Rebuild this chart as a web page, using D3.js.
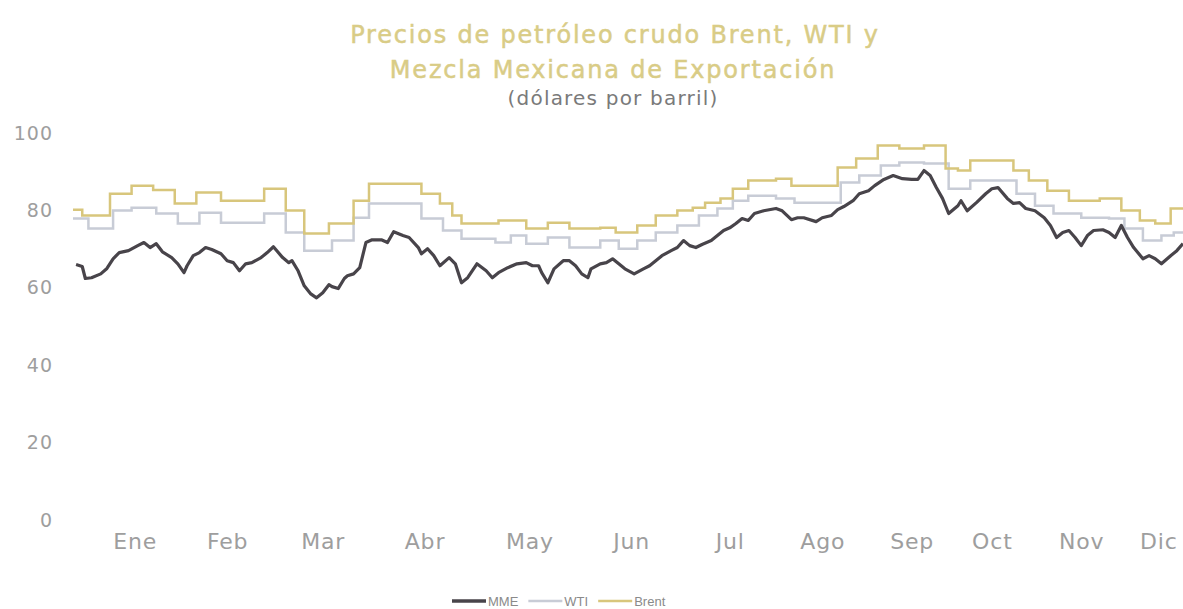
<!DOCTYPE html>
<html>
<head>
<meta charset="utf-8">
<script src="https://cdn.jsdelivr.net/npm/d3@7"></script>
<style>
  body { margin: 0; background: #fff; }
  text { font-family: "DejaVu Sans", sans-serif; }
</style>
</head>
<body>
<div id="chart"></div>
<script>
// Data (día del año 2023, dólares por barril):
var yTicks = [0, 20, 40, 60, 80, 100];
var months = ["Ene", "Feb", "Mar", "Abr", "May", "Jun", "Jul", "Ago", "Sep", "Oct", "Nov", "Dic"];
var monthDays = [20, 50, 81, 114, 148, 181, 213, 243, 272, 298, 327, 352];

var mme = [
  [1, 66.0], [3, 65.5], [4, 62.4], [6, 62.6], [9, 63.6], [11, 65.0], [13, 67.5], [15, 69.1],
  [18, 69.6], [21, 70.9], [23, 71.7], [25, 70.4], [27, 71.4], [29, 69.3], [32, 67.8], [34, 66.2],
  [36, 63.9], [37, 65.7], [39, 68.3], [41, 69.1], [43, 70.4], [45, 69.9], [48, 68.8], [50, 67.0],
  [52, 66.5], [54, 64.4], [56, 66.2], [58, 66.5], [61, 67.8], [63, 69.1], [65, 70.6], [68, 67.8],
  [70, 66.5], [71, 67.0], [73, 64.4], [75, 60.5], [77, 58.5], [79, 57.4], [81, 58.7], [83, 60.8],
  [84, 60.3], [86, 59.8], [88, 62.4], [89, 63.1], [91, 63.6], [93, 65.2], [95, 71.7], [97, 72.4],
  [100, 72.4], [102, 71.7], [104, 74.5], [107, 73.5], [109, 73.0], [112, 70.4], [113, 68.8], [115, 70.1],
  [117, 68.3], [119, 65.7], [122, 67.8], [124, 66.2], [126, 61.3], [128, 62.6], [131, 66.2], [134, 64.4],
  [136, 62.6], [138, 63.9], [141, 65.2], [144, 66.2], [147, 66.5], [149, 65.7], [151, 65.7], [152, 63.9],
  [154, 61.3], [156, 64.9], [159, 67.0], [161, 67.0], [163, 65.7], [165, 63.6], [167, 62.6], [168, 64.9],
  [171, 66.2], [173, 66.5], [175, 67.5], [177, 66.2], [179, 64.9], [182, 63.6], [185, 64.9], [187, 65.7],
  [189, 67.0], [191, 68.3], [194, 69.6], [196, 70.4], [198, 72.2], [200, 70.9], [202, 70.4], [204, 71.2],
  [207, 72.2], [209, 73.5], [211, 74.8], [213, 75.5], [215, 76.6], [217, 77.9], [219, 77.4], [221, 79.2],
  [224, 79.9], [228, 80.5], [230, 79.9], [233, 77.6], [235, 78.1], [237, 78.1], [241, 77.1], [243, 78.1],
  [246, 78.7], [248, 80.2], [250, 81.0], [253, 82.5], [255, 84.3], [258, 85.1], [260, 86.4], [263, 88.0],
  [266, 89.0], [269, 88.2], [272, 88.0], [274, 88.0], [276, 90.3], [278, 89.0], [280, 85.9], [282, 83.1],
  [284, 79.2], [287, 81.2], [288, 82.5], [290, 79.9], [293, 82.0], [296, 84.3], [298, 85.6], [300, 85.9],
  [303, 83.1], [305, 81.8], [307, 82.0], [309, 80.5], [312, 79.9], [315, 78.1], [317, 76.1], [319, 73.0],
  [321, 74.3], [323, 74.8], [325, 73.0], [327, 70.9], [329, 73.5], [331, 74.8], [334, 75.0], [336, 74.3],
  [338, 73.0], [340, 76.1], [342, 73.0], [344, 70.4], [347, 67.5], [349, 68.3], [351, 67.5], [353, 66.2],
  [356, 68.3], [358, 69.6], [360, 71.4]
];

var wti = [
  [0, 77.9], [5, 75.3], [13, 80.0], [19, 80.7], [27, 79.2], [34, 76.6], [41, 79.4], [48, 76.8],
  [62, 79.2], [69, 74.3], [75, 69.6], [84, 72.2], [91, 78.1], [96, 81.8], [113, 77.9], [120, 74.8],
  [126, 72.7], [137, 71.7], [142, 73.5], [147, 71.4], [154, 73.0], [161, 70.4], [171, 72.2], [177, 70.1],
  [183, 72.2], [189, 74.3], [196, 76.1], [203, 78.7], [209, 80.5], [214, 82.5], [219, 83.8], [228, 83.1],
  [234, 82.0], [249, 87.2], [255, 89.0], [262, 91.6], [268, 92.4], [276, 92.1], [284, 85.6], [291, 87.7],
  [306, 84.3], [312, 81.2], [318, 79.2], [327, 78.1], [336, 77.9], [341, 75.3], [347, 72.2], [353, 73.5],
  [357, 74.3], [360, 74.3]
];

var brent = [
  [0, 80.2], [3, 78.7], [12, 84.3], [19, 86.4], [26, 85.3], [33, 81.8], [40, 84.6], [48, 82.5],
  [62, 85.6], [69, 80.0], [75, 74.0], [83, 76.6], [91, 82.5], [96, 86.9], [113, 84.3], [119, 81.8],
  [123, 78.7], [126, 76.6], [138, 77.4], [147, 75.3], [154, 76.8], [161, 75.3], [171, 75.5], [176, 74.3],
  [183, 76.1], [189, 78.7], [196, 80.0], [201, 80.7], [205, 82.0], [210, 83.1], [214, 85.6], [219, 87.7],
  [228, 88.2], [233, 86.4], [248, 91.1], [254, 93.4], [261, 96.8], [268, 96.0], [276, 96.8], [283, 90.8],
  [287, 90.3], [291, 92.9], [305, 90.3], [310, 87.7], [316, 85.1], [323, 82.5], [333, 83.1], [340, 80.0],
  [346, 77.4], [351, 76.6], [356, 80.5], [360, 80.7]
];

var seriesNames = ["MME", "WTI", "Brent"];

// Layout
var W = 1183, H = 609;
var margin = { top: 133, right: 0, bottom: 90, left: 73 };
var colors = { MME: "#48444a", WTI: "#c8ccd6", Brent: "#d8c67c" };

var svg = d3.select("#chart").append("svg")
  .attr("width", W)
  .attr("height", H);

var x = d3.scaleLinear().domain([0, 360]).range([margin.left, W - margin.right]);
var y = d3.scaleLinear().domain([0, 100]).range([H - margin.bottom + 1, margin.top]);

// Title
var title = svg.append("g").attr("text-anchor", "middle");
title.append("text")
  .attr("x", 615).attr("y", 43)
  .style("font-size", "24px").style("fill", "#d9cc86")
  .style("stroke", "#d9cc86").style("stroke-width", "0.5px")
  .style("letter-spacing", "1.8px")
  .text("Precios de petróleo crudo Brent, WTI y");
title.append("text")
  .attr("x", 613).attr("y", 78)
  .style("font-size", "24px").style("fill", "#d9cc86")
  .style("stroke", "#d9cc86").style("stroke-width", "0.5px")
  .style("letter-spacing", "1.8px")
  .text("Mezcla Mexicana de Exportación");
title.append("text")
  .attr("x", 613).attr("y", 105)
  .style("font-size", "20px").style("fill", "#7a7a7a")
  .style("letter-spacing", "1.2px")
  .text("(dólares por barril)");

// Y axis (labels only)
var yAxis = svg.append("g")
  .attr("transform", "translate(53,0)")
  .call(d3.axisLeft(y).tickValues(yTicks).tickSize(0).tickPadding(0));
yAxis.select(".domain").remove();
yAxis.selectAll("text")
  .style("font-size", "19px").style("fill", "#9e9e9e")
  .style("letter-spacing", "1px").style("font-family", "DejaVu Sans");

// X axis (month labels only)
var xAxis = svg.append("g")
  .attr("transform", "translate(0," + 533 + ")")
  .call(d3.axisBottom(x).tickValues(monthDays)
    .tickFormat(function(d, i) { return months[i]; })
    .tickSize(0).tickPadding(0));
xAxis.select(".domain").remove();
xAxis.selectAll("text")
  .style("font-size", "22px").style("fill", "#9e9e9e")
  .style("letter-spacing", "0.8px").style("font-family", "DejaVu Sans");

// Lines
var line = d3.line()
  .x(function(d) { return x(d[0]); })
  .y(function(d) { return y(d[1]); });

svg.append("path")
  .datum(wti)
  .attr("fill", "none")
  .attr("stroke", colors.WTI)
  .attr("stroke-width", 2.5)
  .attr("d", line.curve(d3.curveStepAfter));

svg.append("path")
  .datum(brent)
  .attr("fill", "none")
  .attr("stroke", colors.Brent)
  .attr("stroke-width", 2.5)
  .attr("d", line.curve(d3.curveStepAfter));

svg.append("path")
  .datum(mme)
  .attr("fill", "none")
  .attr("stroke", colors.MME)
  .attr("stroke-width", 3.2)
  .attr("stroke-linejoin", "round")
  .attr("d", line.curve(d3.curveLinear));

// Legend
var legend = svg.append("g").attr("transform", "translate(452,601)");
var lx = 0;
seriesNames.forEach(function(name) {
  legend.append("line")
    .attr("x1", lx).attr("x2", lx + 34)
    .attr("y1", 0).attr("y2", 0)
    .attr("stroke", colors[name])
    .attr("stroke-width", name === "MME" ? 3.5 : 2.5);
  var t = legend.append("text")
    .attr("x", lx + 36).attr("y", 4.5)
    .style("font-family", "Liberation Sans Narrow, Liberation Sans, sans-serif")
    .style("font-size", "13px").style("fill", "#8a8a8a")
    .text(name);
  lx += 36 + t.node().getComputedTextLength() + 10;
});
</script>
</body>
</html>
